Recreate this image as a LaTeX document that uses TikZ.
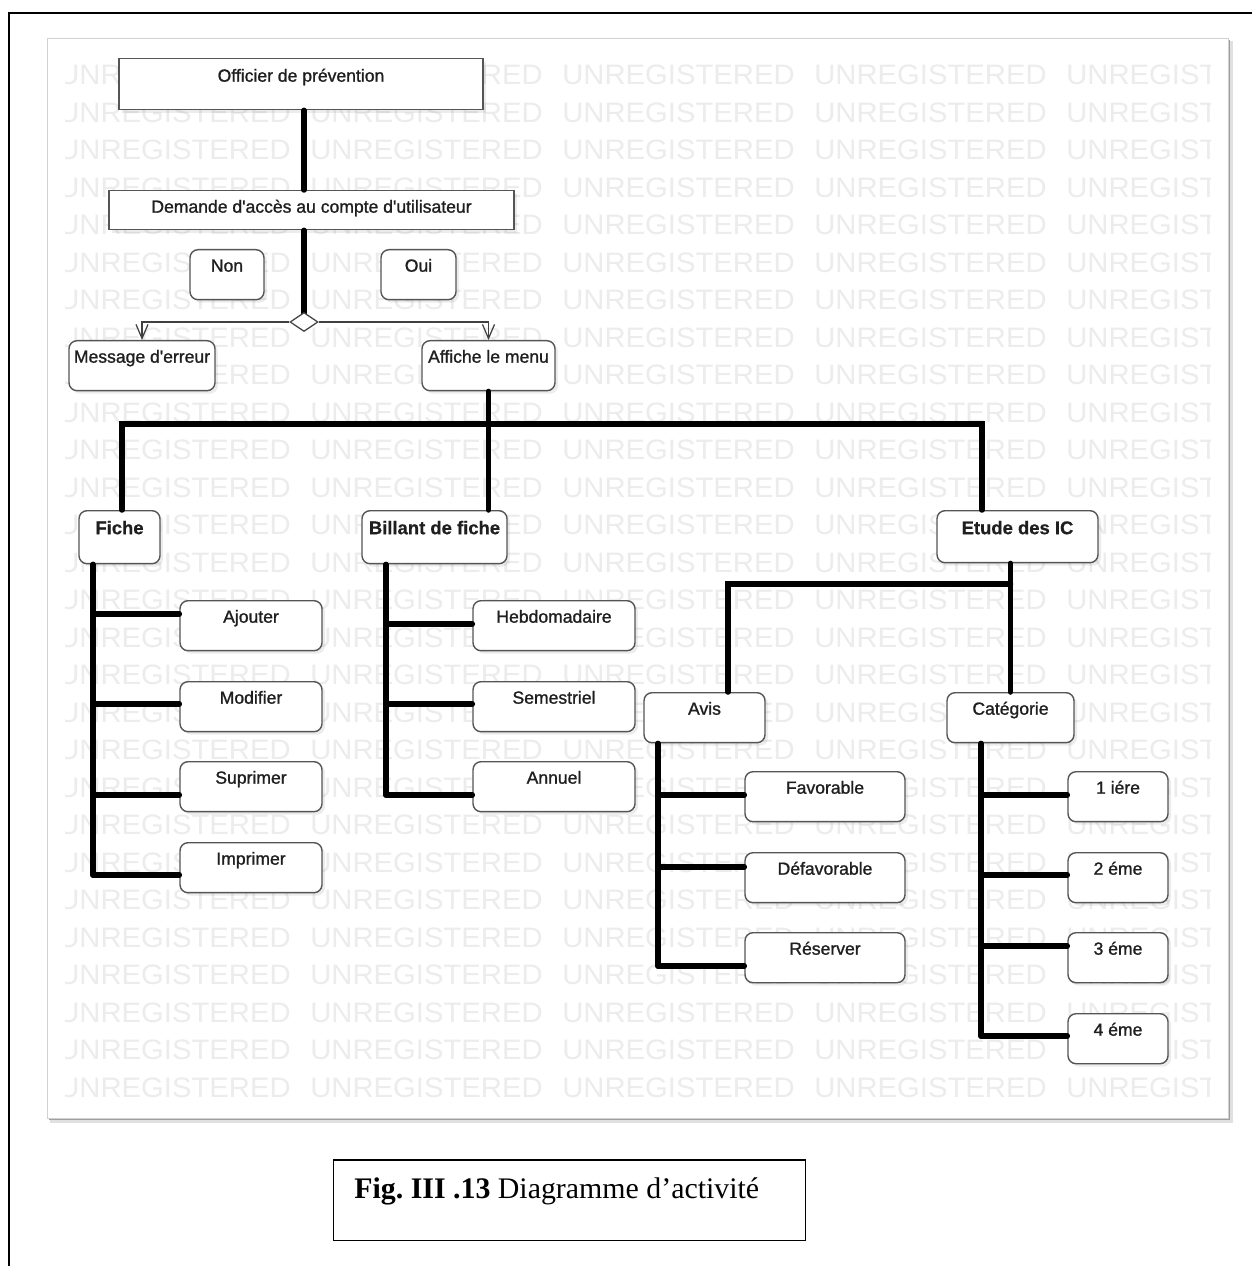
\documentclass[tikz,border=0pt]{standalone}
\usepackage{fontspec}
\setmainfont{Liberation Serif}
\newfontfamily\actfont[FakeBold=1.2]{Liberation Sans}
\newfontfamily\headfont[FakeBold=0.6]{Liberation Sans Bold}
\newfontfamily\wmfont[FakeStretch=1.04]{Liberation Sans}
\usetikzlibrary{shapes.geometric,arrows.meta,shadows}
\definecolor{boxline}{HTML}{555555}
\definecolor{wmgray}{HTML}{ECECEC}
\frenchspacing
\begin{document}
\begin{tikzpicture}[x=0.02cm,y=-0.02cm,
  act/.style={draw=boxline,line width=0.8pt,fill=white,rounded corners=0.16cm,anchor=north,inner sep=0pt,
    text height=0.44cm,text depth=0.56cm,text=black!88,font=\actfont\fontsize{10}{12}\selectfont,
    drop shadow={shadow xshift=0.06cm,shadow yshift=-0.06cm,opacity=0.15}},
  headbox/.style={act,text height=0.47cm,font=\headfont\fontsize{10.5}{12}\selectfont},
  sharpbox/.style={act,rounded corners=0pt},
  bar/.style={line width=0.11cm,line cap=round},
  flow/.style={draw=black!75,line width=0.7pt,-{Straight Barb[length=0.28cm,width=0.24cm]}},
  wm/.style={anchor=west,inner sep=0pt,text=wmgray,font=\wmfont\fontsize{16}{16}\selectfont}]
\useasboundingbox (0,0) rectangle (1252,1266);
\draw[line width=1.1pt] (9,1266) -- (9,13) -- (1252,13);
\fill[black!12] (50,41) rectangle (1233,1123);
\fill[black!38] (49,40) rectangle (1230,1120);
\filldraw[fill=white,draw=black!18] (47,38) rectangle (1228,1118);
\begin{scope}
\clip (65,50) rectangle (1210,1110);
\foreach \r in {0,...,27}
  \foreach \c in {0,...,4}
    \node[wm] (wm-\r-\c) at (58+252*\c,75+37.5*\r) {UNREGISTERED};
\end{scope}
\node[sharpbox,minimum width=7.28cm,text height=0.46cm] (officier) at (301,58) {Officier de prévention};
\node[sharpbox,minimum width=8.10cm,text depth=0.34cm] (demande) at (311.5,190) {Demande d\textquotesingle accès au compte d\textquotesingle utilisateur};
\node[act,minimum width=1.48cm] (non) at (227,249) {Non};
\node[act,minimum width=1.50cm] (oui) at (418.5,249) {Oui};
\node[act,minimum width=2.92cm] (message) at (142,340) {Message d\textquotesingle erreur};
\node[act,minimum width=2.66cm] (affiche) at (488.5,340) {Affiche le menu};
\node[headbox,minimum width=1.62cm,text depth=0.59cm] (fiche) at (119.5,510) {Fiche};
\node[headbox,minimum width=2.90cm,text depth=0.59cm] (billant) at (434.5,510) {Billant de fiche};
\node[headbox,minimum width=3.22cm,text depth=0.57cm] (etude) at (1017.5,510) {Etude des IC};
\node[act,minimum width=2.84cm] (ajouter) at (251,600) {Ajouter};
\node[act,minimum width=2.84cm] (modifier) at (251,681) {Modifier};
\node[act,minimum width=2.84cm] (suprimer) at (251,761) {Suprimer};
\node[act,minimum width=2.84cm] (imprimer) at (251,842) {Imprimer};
\node[act,minimum width=3.24cm] (hebdo) at (554,600) {Hebdomadaire};
\node[act,minimum width=3.24cm] (semestriel) at (554,681) {Semestriel};
\node[act,minimum width=3.24cm] (annuel) at (554,761) {Annuel};
\node[act,minimum width=2.42cm] (avis) at (704.5,692) {Avis};
\node[act,minimum width=2.54cm] (categorie) at (1010.5,692) {Catégorie};
\node[act,minimum width=3.20cm] (favorable) at (825,771) {Favorable};
\node[act,minimum width=3.20cm] (defavorable) at (825,852) {Défavorable};
\node[act,minimum width=3.20cm] (reserver) at (825,932) {Réserver};
\node[act,minimum width=2.00cm] (cat1) at (1118,771) {1 iére};
\node[act,minimum width=2.00cm] (cat2) at (1118,852) {2 éme};
\node[act,minimum width=2.00cm] (cat3) at (1118,932) {3 éme};
\node[act,minimum width=2.00cm] (cat4) at (1118,1013) {4 éme};
\node[draw,line width=0.85pt,anchor=north west,minimum width=9.44cm,minimum height=1.62cm] (capbox) at (333,1159) {};
\node[anchor=base west,inner sep=0pt,font=\fontsize{17}{20}\selectfont] (caption) at (354,1198) {\textbf{Fig. III .13} Diagramme d’activité};
\coordinate (busL) at (122,424);
\coordinate (busR) at (982,424);
\coordinate (ej) at (728,584);
\coordinate (fa) at (93,614);
\coordinate (fb) at (93,704);
\coordinate (fc) at (93,795);
\coordinate (fd) at (93,875);
\coordinate (ba) at (386,624);
\coordinate (bb) at (386,704);
\coordinate (bc) at (386,795);
\coordinate (aa) at (658,795);
\coordinate (ab) at (658,867);
\coordinate (ac) at (658,966);
\coordinate (ca) at (981,795);
\coordinate (cb) at (981,875);
\coordinate (cc) at (981,946);
\coordinate (cd) at (981,1036);
\draw[bar] (officier.south -| 304,0) -- (demande.north -| 304,0);
\draw[bar] (demande.south -| 304,0) -- (304,313);
\node[diamond,draw=black!75,line width=0.7pt,fill=white,minimum width=0.56cm,minimum height=0.38cm,inner sep=0pt] (dec) at (304,322) {};
\draw[flow] (dec.west) -| (message.north);
\draw[flow] (dec.east) -| (affiche.north);
\draw[bar] (affiche.south) -- (affiche.south |- billant.north);
\draw[bar] (busL |- fiche.north) -- (busL) -- (busR) -- (busR |- etude.north);
\draw[bar] (fiche.south -| fa) -- (fd);
\foreach \j/\n in {fa/ajouter,fb/modifier,fc/suprimer,fd/imprimer}
  \draw[bar] (\j) -- (\j -| \n.west);
\draw[bar] (billant.south -| ba) -- (bc);
\foreach \j/\n in {ba/hebdo,bb/semestriel,bc/annuel}
  \draw[bar] (\j) -- (\j -| \n.west);
\draw[bar] (etude.south -| categorie.north) -- (categorie.north);
\draw[bar] (ej -| categorie.north) -- (ej) -- (ej |- avis.north);
\draw[bar] (avis.south -| aa) -- (ac);
\foreach \j/\n in {aa/favorable,ab/defavorable,ac/reserver}
  \draw[bar] (\j) -- (\j -| \n.west);
\draw[bar] (categorie.south -| ca) -- (cd);
\foreach \j/\n in {ca/cat1,cb/cat2,cc/cat3,cd/cat4}
  \draw[bar] (\j) -- (\j -| \n.west);
\end{tikzpicture}
\end{document}
